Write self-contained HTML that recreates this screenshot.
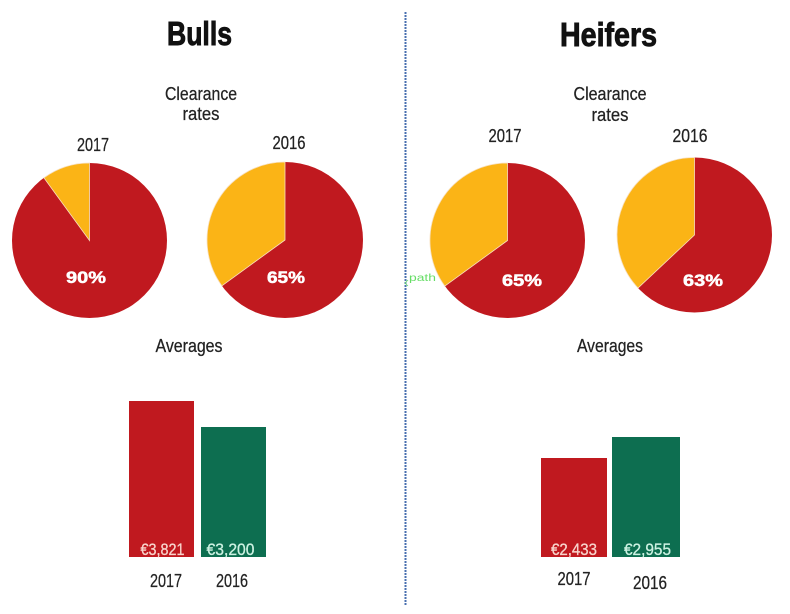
<!DOCTYPE html>
<html>
<head>
<meta charset="utf-8">
<style>
  html,body{margin:0;padding:0;background:#fff;}
  svg{display:block;}
  text{font-family:"Liberation Sans",sans-serif;}
</style>
</head>
<body>
<svg width="790" height="614" viewBox="0 0 790 614" xmlns="http://www.w3.org/2000/svg">
  <rect width="790" height="614" fill="#fff"/>

  <!-- divider -->
  <line x1="405.5" y1="12" x2="405.5" y2="606" stroke="#4a70b0" stroke-width="2" stroke-dasharray="2,1"/>

  <!-- Titles -->
  <text x="199.5" y="45" font-size="33" font-weight="bold" fill="#111" stroke="#111" stroke-width="0.9" text-anchor="middle" textLength="65" lengthAdjust="spacingAndGlyphs">Bulls</text>
  <text x="608.5" y="46" font-size="33" font-weight="bold" fill="#111" stroke="#111" stroke-width="0.9" text-anchor="middle" textLength="97" lengthAdjust="spacingAndGlyphs">Heifers</text>

  <!-- Clearance rates -->
  <g fill="#222" font-size="18" stroke="#222" stroke-width="0.25">
    <text x="201" y="100" text-anchor="middle" textLength="72" lengthAdjust="spacingAndGlyphs">Clearance</text>
    <text x="201" y="120" text-anchor="middle" textLength="37" lengthAdjust="spacingAndGlyphs">rates</text>
    <text x="610" y="100" text-anchor="middle" textLength="73" lengthAdjust="spacingAndGlyphs">Clearance</text>
    <text x="610" y="121" text-anchor="middle" textLength="37" lengthAdjust="spacingAndGlyphs">rates</text>

    <text x="93" y="151" text-anchor="middle" textLength="32" lengthAdjust="spacingAndGlyphs">2017</text>
    <text x="289" y="149" text-anchor="middle" textLength="33" lengthAdjust="spacingAndGlyphs">2016</text>
    <text x="505" y="142" text-anchor="middle" textLength="33" lengthAdjust="spacingAndGlyphs">2017</text>
    <text x="690" y="142" text-anchor="middle" textLength="35" lengthAdjust="spacingAndGlyphs">2016</text>
  </g>

  <!-- Pie: Bulls 2017 (90%) -->
  <g>
    <circle cx="89.5" cy="240.5" r="77.5" fill="#c0191f"/>
    <path d="M89.5,240.5 L89.5,163 A77.5,77.5 0 0 0 43.95,177.8 Z" fill="#fbb416" stroke="#f7e0c0" stroke-width="0.8"/>
  </g>
  <!-- Pie: Bulls 2016 (65%) -->
  <g>
    <circle cx="285" cy="240" r="78" fill="#c0191f"/>
    <path d="M285,240 L285,162 A78,78 0 0 0 221.9,285.8 Z" fill="#fbb416" stroke="#f7e0c0" stroke-width="0.8"/>
  </g>
  <!-- Pie: Heifers 2017 (65%) -->
  <g>
    <circle cx="507.5" cy="240.5" r="77.5" fill="#c0191f"/>
    <path d="M507.5,240.5 L507.5,163 A77.5,77.5 0 0 0 444.8,286.1 Z" fill="#fbb416" stroke="#f7e0c0" stroke-width="0.8"/>
  </g>
  <!-- Pie: Heifers 2016 (63%) -->
  <g>
    <circle cx="694.5" cy="235" r="77.5" fill="#c0191f"/>
    <path d="M694.5,235 L694.5,157.5 A77.5,77.5 0 0 0 638,288 Z" fill="#fbb416" stroke="#f7e0c0" stroke-width="0.8"/>
  </g>

  <!-- pie percentages -->
  <g fill="#fff" font-size="17" font-weight="bold" stroke="#fff" stroke-width="0.5">
    <text x="86" y="283" text-anchor="middle" textLength="40" lengthAdjust="spacingAndGlyphs">90%</text>
    <text x="286" y="283" text-anchor="middle" textLength="38" lengthAdjust="spacingAndGlyphs">65%</text>
    <text x="522" y="286" text-anchor="middle" textLength="40" lengthAdjust="spacingAndGlyphs">65%</text>
    <text x="703" y="286" text-anchor="middle" textLength="40" lengthAdjust="spacingAndGlyphs">63%</text>
  </g>

  <!-- path annotation -->
  <text x="409" y="281" font-size="10" fill="#66dd66" textLength="27" lengthAdjust="spacingAndGlyphs">path</text>
  <path d="M405,283 l3,-3 M405,283 l3,3" stroke="#66dd66" stroke-width="0.8" fill="none"/>

  <!-- Averages -->
  <g fill="#222" font-size="18" stroke="#222" stroke-width="0.25">
    <text x="189" y="352" text-anchor="middle" textLength="67" lengthAdjust="spacingAndGlyphs">Averages</text>
    <text x="610" y="352" text-anchor="middle" textLength="66" lengthAdjust="spacingAndGlyphs">Averages</text>
  </g>

  <!-- Bars Bulls -->
  <rect x="129" y="401" width="65" height="156" fill="#c0191f"/>
  <rect x="201" y="427" width="65" height="130" fill="#0d6e50"/>
  <!-- Bars Heifers -->
  <rect x="541" y="458" width="66" height="99" fill="#c0191f"/>
  <rect x="612" y="437" width="68" height="120" fill="#0d6e50"/>

  <!-- bar labels -->
  <g font-size="17">
    <text x="162.5" y="555" fill="#f8d4cc" stroke="#f8d4cc" stroke-width="0.3" text-anchor="middle" textLength="44" lengthAdjust="spacingAndGlyphs">€3,821</text>
    <text x="230.5" y="555" fill="#cdf2e2" stroke="#cdf2e2" stroke-width="0.3" text-anchor="middle" textLength="48" lengthAdjust="spacingAndGlyphs">€3,200</text>
    <text x="574" y="555" fill="#f8d4cc" stroke="#f8d4cc" stroke-width="0.3" text-anchor="middle" textLength="46" lengthAdjust="spacingAndGlyphs">€2,433</text>
    <text x="647.5" y="555" fill="#cdf2e2" stroke="#cdf2e2" stroke-width="0.3" text-anchor="middle" textLength="47" lengthAdjust="spacingAndGlyphs">€2,955</text>
  </g>

  <!-- year labels under bars -->
  <g fill="#222" font-size="18" stroke="#222" stroke-width="0.25">
    <text x="166" y="587" text-anchor="middle" textLength="32" lengthAdjust="spacingAndGlyphs">2017</text>
    <text x="232" y="587" text-anchor="middle" textLength="32" lengthAdjust="spacingAndGlyphs">2016</text>
    <text x="574" y="585" text-anchor="middle" textLength="33" lengthAdjust="spacingAndGlyphs">2017</text>
    <text x="650" y="589" text-anchor="middle" textLength="34" lengthAdjust="spacingAndGlyphs">2016</text>
  </g>
</svg>
</body>
</html>
